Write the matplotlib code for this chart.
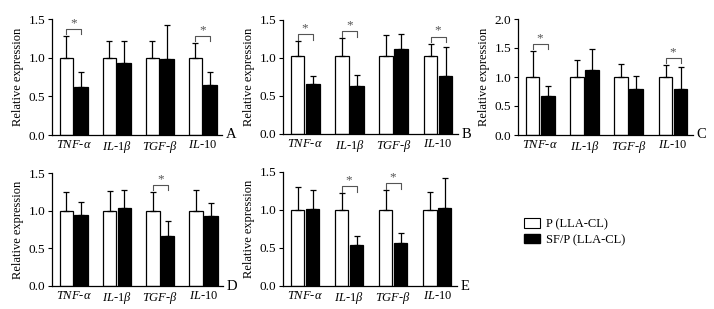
import numpy as np
import matplotlib
matplotlib.use("Agg")
import matplotlib.pyplot as plt
from matplotlib.patches import Patch

plt.rcParams['font.family'] = ['Liberation Serif', 'DejaVu Serif']
plt.rcParams['mathtext.fontset'] = 'custom'
plt.rcParams['mathtext.rm'] = 'Liberation Serif'
plt.rcParams['mathtext.it'] = 'Liberation Serif:italic'

genes = [r'$\mathit{TNF}$-$\mathit{\alpha}$', r'$\mathit{IL}$-1$\mathit{\beta}$',
         r'$\mathit{TGF}$-$\mathit{\beta}$', r'$\mathit{IL}$-10']
series_names = ['P (LLA-CL)', 'SF/P (LLA-CL)']
panels = ['A', 'B', 'C', 'D', 'E']
ymax = [1.5, 1.5, 2.0, 1.5, 1.5]

p_mean = [[1.0, 1.0, 1.0, 1.0],
          [1.02, 1.02, 1.02, 1.02],
          [1.0, 1.0, 1.0, 1.0],
          [1.0, 1.0, 1.0, 1.0],
          [1.0, 1.0, 1.0, 1.0]]
p_err = [[0.28, 0.21, 0.22, 0.19],
         [0.20, 0.24, 0.28, 0.17],
         [0.45, 0.30, 0.22, 0.21],
         [0.25, 0.26, 0.25, 0.28],
         [0.30, 0.22, 0.26, 0.24]]
sf_mean = [[0.62, 0.93, 0.98, 0.65],
           [0.66, 0.63, 1.12, 0.76],
           [0.67, 1.12, 0.80, 0.79],
           [0.94, 1.03, 0.66, 0.93],
           [1.01, 0.54, 0.57, 1.02]]
sf_err = [[0.20, 0.28, 0.44, 0.17],
          [0.10, 0.14, 0.19, 0.39],
          [0.18, 0.36, 0.22, 0.38],
          [0.18, 0.24, 0.20, 0.17],
          [0.25, 0.12, 0.13, 0.40]]
# genes with significant difference (index into genes)
signif = [[0, 3], [0, 1, 3], [0, 3], [2], [1, 2]]

# axes boxes (left, top, right, bottom) in pixels
W, H = 714.0, 309.0
boxes = [(52, 19, 222, 135), (283, 20, 458, 134), (518, 19, 693, 135),
         (52, 173, 223, 286), (283, 172, 457, 286)]

fig = plt.figure(figsize=(7.14, 3.09), dpi=100)
x = np.arange(len(genes))
off = 0.17
bw = 0.31
ekw = dict(elinewidth=0.9, capsize=2.5, capthick=0.9, ecolor='black')

for i, letter in enumerate(panels):
    l, t, r, b = boxes[i]
    ax = fig.add_axes([l / W, 1 - b / H, (r - l) / W, (b - t) / H])
    ax.bar(x - off, p_mean[i], bw, color='white', edgecolor='black', linewidth=0.9,
           yerr=[np.zeros(4), p_err[i]], error_kw=ekw)
    ax.bar(x + off, sf_mean[i], bw, color='black', edgecolor='black', linewidth=0.9,
           yerr=[np.zeros(4), sf_err[i]], error_kw=ekw)
    ax.set_xlim(-0.5, 3.45)
    ax.set_ylim(0, ymax[i])
    yt = np.arange(0, ymax[i] + 0.01, 0.5)
    ax.set_yticks(yt)
    ax.set_yticklabels(['%.1f' % v for v in yt], fontsize=9.5)
    ax.set_xticks(x)
    ax.set_xticklabels(genes, fontsize=9)
    ax.tick_params(axis='x', length=0, pad=3)
    ax.tick_params(axis='y', length=3, width=0.8, direction='out', pad=2)
    ax.spines['top'].set_visible(False)
    ax.spines['right'].set_visible(False)
    ax.spines['left'].set_linewidth(0.9)
    ax.spines['bottom'].set_linewidth(0.9)
    ax.set_ylabel('Relative expression', fontsize=9, labelpad=3)
    ax.text(1.02, 0.0, letter, transform=ax.transAxes, fontsize=10.5, va='center', ha='left')

    for g in signif[i]:
        top = max(p_mean[i][g] + p_err[i][g], sf_mean[i][g] + sf_err[i][g])
        yb = top + 0.06 * ymax[i]
        leg = 0.045 * ymax[i]
        ax.plot([g - off, g - off, g + off, g + off], [yb - leg, yb, yb, yb - leg],
                color='#555555', linewidth=0.8, clip_on=False)
        ax.text(g, yb, '*', ha='center', va='bottom', fontsize=9.5, color='#555555')

handles = [Patch(facecolor='white', edgecolor='black', linewidth=0.8),
           Patch(facecolor='black', edgecolor='black')]
fig.legend(handles, series_names, loc='center left', bbox_to_anchor=(524 / W, 1 - 232 / H),
           frameon=False, fontsize=9, handlelength=1.3, handleheight=0.8, handletextpad=0.5,
           labelspacing=0.3, borderaxespad=0, borderpad=0)

fig.savefig('out.png', dpi=100)
